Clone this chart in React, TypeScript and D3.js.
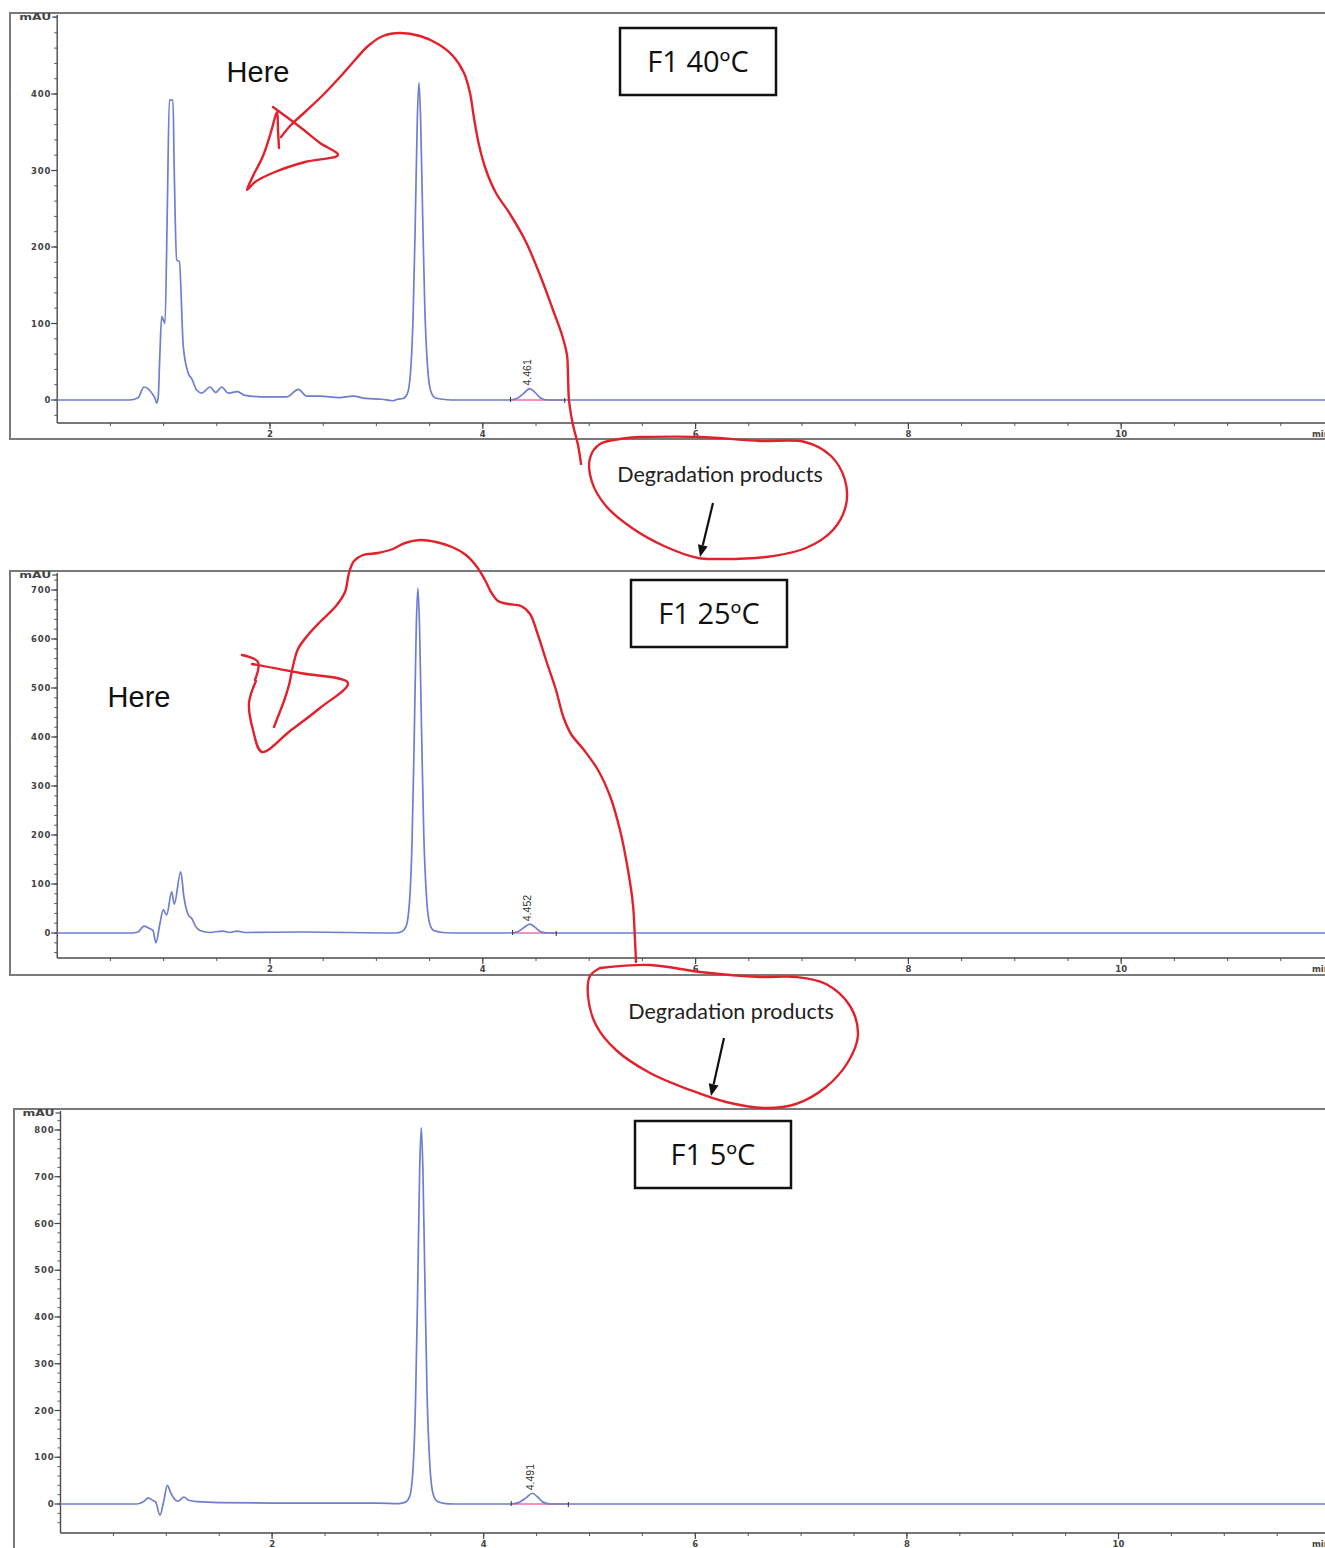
import * as d3 from 'd3';

// ---- values: [time (min), signal (mAU)] ----
const f40Trace: [number, number][] = [
  [0, 0], [0.68, 0], [0.76, 3], [0.816, 17], [0.89, 9], [0.92, 2], [0.935, -4], [0.95, 5],
  [0.965, 60], [0.982, 109], [1.013, 100], [1.035, 250], [1.054, 392], [1.088, 392], [1.1, 300],
  [1.123, 183], [1.148, 181], [1.185, 70], [1.232, 35], [1.264, 28], [1.311, 13], [1.358, 9],
  [1.436, 17], [1.49, 10], [1.546, 17], [1.608, 9], [1.693, 11], [1.765, 6], [1.969, 4],
  [2.157, 4], [2.266, 14], [2.345, 5], [2.47, 5], [2.65, 3], [2.78, 5], [2.9, 2], [3.05, 1],
  [3.15, -1], [3.2, 1], [3.25, 2], [3.29, 8], [3.32, 35], [3.345, 110], [3.365, 230], [3.385, 370],
  [3.4, 415], [3.415, 370], [3.435, 240], [3.455, 120], [3.48, 45], [3.51, 12], [3.55, 3], [3.62, 1],
  [3.7, 0], [4.25, 0], [4.32, 2], [4.38, 8], [4.44, 15], [4.49, 10], [4.54, 3], [4.61, 0], [12.5, 0],
];

const f25Trace: [number, number][] = [
  [0, 0], [0.7, 0], [0.76, 2], [0.816, 14], [0.87, 9], [0.9, 5], [0.928, -20], [0.966, 20],
  [0.997, 47], [1.029, 37], [1.076, 84], [1.1, 59], [1.161, 125], [1.19, 75], [1.232, 37],
  [1.264, 30], [1.3, 14], [1.342, 5], [1.436, 1], [1.555, 4], [1.624, 1], [1.69, 4], [1.765, 1],
  [2.3, 2], [3.18, 0], [3.24, 3], [3.28, 14], [3.31, 60], [3.335, 187], [3.355, 390], [3.375, 628],
  [3.39, 704], [3.405, 628], [3.425, 407], [3.445, 204], [3.47, 76], [3.5, 20], [3.54, 5], [3.62, 1],
  [3.7, 0], [4.25, 0], [4.32, 2], [4.38, 10], [4.44, 18], [4.49, 12], [4.54, 3], [4.61, 0], [12.5, 0],
];

const f5Trace: [number, number][] = [
  [0, 0], [0.72, 0], [0.79, 6], [0.83, 13], [0.87, 8], [0.9, 4], [0.94, -24], [0.975, 5],
  [1.01, 40], [1.04, 25], [1.08, 10], [1.11, 6], [1.167, 15], [1.21, 8], [1.3, 5], [1.5, 3],
  [2.0, 2], [3.0, 2], [3.2, 1], [3.26, 4], [3.3, 16], [3.33, 68], [3.355, 213], [3.375, 446],
  [3.395, 718], [3.41, 805], [3.425, 718], [3.445, 466], [3.465, 233], [3.49, 87], [3.52, 23],
  [3.56, 6], [3.64, 1], [3.72, 0], [4.25, 0], [4.33, 3], [4.4, 13], [4.46, 23], [4.51, 15],
  [4.56, 4], [4.63, 0], [12.5, 0],
];

// integrated degradation peak: label, apex, integration start / end (min)
const peakLabels = ['4.461', '4.452', '4.491'];
const peakApex = [4.44, 4.44, 4.46];
const peakStart = [4.26, 4.28, 4.26];
const peakEnd = [4.77, 4.69, 4.8];

const panelTitles = ['F1 40ºC', 'F1 25ºC', 'F1 5ºC'];
const yMajorTicks = [
  [0, 100, 200, 300, 400],
  [0, 100, 200, 300, 400, 500, 600, 700],
  [0, 100, 200, 300, 400, 500, 600, 700, 800],
];
const xTickLabels = [2, 4, 6, 8, 10];

// pixel layout of each panel (frame, axes, and where 0 / top tick sit)
const layout = [
  { fx: 10, fy: 13, fh: 426, left: 57.2, top: 15, bottom: 423, px: 106.4, zeroY: 400, topY: 94 },
  { fx: 10, fy: 571, fh: 404, left: 57.2, top: 573, bottom: 958, px: 106.4, zeroY: 933, topY: 590 },
  { fx: 14, fy: 1109, fh: 470, left: 60.5, top: 1111, bottom: 1533, px: 105.8, zeroY: 1504, topY: 1130 },
];

const traceColor = '#6e7ed0';
const red = '#e1222c';

function Chromatogram({ i, trace }: { i: number; trace: [number, number][] }) {
  const L = layout[i];
  const ticks = yMajorTicks[i];
  const x = d3.scaleLinear().domain([0, 1]).range([L.left, L.left + L.px]);
  const y = d3.scaleLinear().domain([0, ticks[ticks.length - 1]]).range([L.zeroY, L.topY]);
  const line = d3.line<[number, number]>()
    .x(d => x(d[0]))
    .y(d => y(d[1]))
    .curve(d3.curveMonotoneX);

  const yMinor = d3.range(-100, 1000, 20).filter(v => y(v) <= L.bottom - 2 && y(v) >= L.top + 1);
  const xMinor = d3.range(0.5, 12.5, 0.5);

  const apexX = x(peakApex[i]);
  const apexY = y(trace.find(d => d[0] === peakApex[i])![1]);

  return (
    <g>
      <rect x={L.fx} y={L.fy} width={1400} height={L.fh} fill="none" stroke="#7a7a7a" strokeWidth={2} />
      {/* axes */}
      <line x1={L.left} x2={L.left} y1={L.top} y2={L.bottom} stroke="#4a4a4a" strokeWidth={1.4} />
      <line x1={L.left} x2={1400} y1={L.bottom} y2={L.bottom} stroke="#4a4a4a" strokeWidth={1.4} />
      <line x1={L.left - 5} x2={L.left} y1={L.top + 2} y2={L.top + 2} stroke="#4a4a4a" strokeWidth={1.2} />
      <text x={L.left - 6} y={L.top + 5} textAnchor="end" fontFamily="DejaVu Sans" fontWeight="bold"
        fontSize={9} fill="#444" textLength={32} lengthAdjust="spacingAndGlyphs">mAU</text>
      {yMinor.map(v => (
        <line key={'ym' + v} x1={L.left - 3} x2={L.left} y1={y(v)} y2={y(v)} stroke="#555" strokeWidth={1} />
      ))}
      {ticks.map(v => (
        <g key={'yt' + v}>
          <line x1={L.left - 6} x2={L.left} y1={y(v)} y2={y(v)} stroke="#444" strokeWidth={1.2} />
          <text x={L.left - 6} y={y(v) + 3} textAnchor="end" fontFamily="DejaVu Sans" fontWeight="bold"
            fontSize={8.5} fill="#444" letterSpacing={0.8}>{v}</text>
        </g>
      ))}
      {xMinor.map(t => (
        <line key={'xm' + t} x1={x(t)} x2={x(t)} y1={L.bottom} y2={L.bottom + 3} stroke="#555" strokeWidth={1} />
      ))}
      {xTickLabels.map(t => (
        <g key={'xt' + t}>
          <line x1={x(t)} x2={x(t)} y1={L.bottom} y2={L.bottom + 6} stroke="#444" strokeWidth={1.2} />
          <text x={x(t)} y={L.bottom + 14} textAnchor="middle" fontFamily="DejaVu Sans" fontWeight="bold"
            fontSize={8.5} fill="#444">{t}</text>
        </g>
      ))}
      <text x={1312} y={L.bottom + 14} fontFamily="DejaVu Sans" fontWeight="bold" fontSize={8.5} fill="#444">min</text>

      {/* integration baseline of the small peak */}
      <line x1={x(peakStart[i])} x2={x(peakEnd[i])} y1={y(0)} y2={y(0)} stroke="#ef6fa6" strokeWidth={1.6} />
      <path d={line(trace)!} fill="none" stroke={traceColor} strokeWidth={1.7} strokeLinejoin="round" />
      <line x1={x(peakStart[i])} x2={x(peakStart[i])} y1={y(0) - 3} y2={y(0) + 2} stroke="#333" strokeWidth={1} />
      <line x1={x(peakEnd[i])} x2={x(peakEnd[i])} y1={y(0) - 2} y2={y(0) + 3} stroke="#333" strokeWidth={1} />
      <text transform={`translate(${apexX + 1.5},${apexY - 3}) rotate(-90)`} fontFamily="Liberation Sans Narrow, Liberation Sans"
        fontSize={10.5} fill="#333">{peakLabels[i]}</text>
    </g>
  );
}

// hand-drawn red annotations (page pixels)
const redStroke1: [number, number][] = [
  [581, 464], [578, 445], [573, 425], [569, 400], [568, 375], [567, 355], [562, 335], [553, 310],
  [540, 275], [525, 240], [510, 214], [496, 193], [486, 170], [479, 145], [474, 118], [470, 93],
  [464, 73], [453, 56], [438, 44], [420, 36], [400, 33], [383, 36], [368, 46], [355, 60],
  [340, 77], [322, 96], [305, 112], [291, 125], [281, 137],
];
const redHead1: [number, number][] = [
  [273, 107], [300, 127], [320, 143], [338, 155], [305, 162], [275, 172], [255, 182], [247, 190],
  [253, 176], [263, 156], [271, 132], [277, 112], [278, 130], [279, 148],
];
const redStroke2: [number, number][] = [
  [636, 962], [635, 940], [633, 905], [628, 870], [620, 830], [610, 796], [598, 770], [584, 750],
  [571, 734], [563, 716], [556, 690], [546, 660], [537, 632], [530, 614], [521, 606], [508, 604],
  [498, 601], [491, 592], [485, 580], [477, 567], [466, 555], [452, 547], [436, 542], [420, 540],
  [405, 543], [393, 549], [378, 553], [363, 555], [354, 561], [349, 573], [345, 592], [336, 606],
  [321, 621], [308, 635], [298, 649], [293, 666], [289, 685], [284, 701], [279, 714], [274, 727],
];
const redHead2a: [number, number][] = [[242, 655], [258, 662], [255, 680]];
const redHead2b: [number, number][] = [
  [252, 664], [300, 673], [348, 683], [320, 708], [290, 731], [262, 752], [253, 730], [249, 703], [256, 681],
];
const ellipse1: [number, number][] = [
  [640, 437], [700, 437], [760, 441], [805, 442], [831, 456], [845, 480], [846, 505], [833, 530],
  [806, 548], [766, 557], [720, 559], [698, 558], [664, 546], [632, 528], [606, 506], [592, 482],
  [590, 458], [600, 444], [640, 437],
];
const ellipse2: [number, number][] = [
  [600, 968], [650, 965], [700, 972], [760, 977], [796, 977], [826, 984], [850, 1006], [858, 1035],
  [848, 1062], [826, 1087], [796, 1104], [766, 1108], [726, 1102], [690, 1090], [650, 1073],
  [616, 1050], [596, 1025], [588, 996], [590, 976], [600, 968],
];

const sketch = d3.line<[number, number]>().curve(d3.curveCatmullRom.alpha(0.5));

function Arrow({ x1, y1, x2, y2 }: { x1: number; y1: number; x2: number; y2: number }) {
  const a = Math.atan2(y2 - y1, x2 - x1);
  const len = 12, w = 5;
  const bx = x2 - len * Math.cos(a), by = y2 - len * Math.sin(a);
  const p1 = [bx + w * Math.sin(a), by - w * Math.cos(a)];
  const p2 = [bx - w * Math.sin(a), by + w * Math.cos(a)];
  return (
    <g>
      <line x1={x1} y1={y1} x2={bx} y2={by} stroke="#111" strokeWidth={2.2} />
      <path d={`M${x2},${y2}L${p1[0]},${p1[1]}L${p2[0]},${p2[1]}Z`} fill="#111" />
    </g>
  );
}

function TitleBox({ x, y, label }: { x: number; y: number; label: string }) {
  return (
    <g>
      <rect x={x} y={y} width={156} height={67} fill="#fff" stroke="#111" strokeWidth={2.5} />
      <text x={x + 78} y={y + 44} textAnchor="middle" fontFamily="Open Sans, Lato" fontSize={29} fill="#111">{label}</text>
    </g>
  );
}

export default function App() {
  const traces = [f40Trace, f25Trace, f5Trace];
  return (
    <svg width={1325} height={1548} style={{ position: 'absolute', left: 0, top: 0, background: '#fff' }}>
      <rect width={1325} height={1548} fill="#fff" />
      {traces.map((t, i) => <Chromatogram key={i} i={i} trace={t} />)}

      <TitleBox x={620} y={28} label={panelTitles[0]} />
      <TitleBox x={631} y={580} label={panelTitles[1]} />
      <TitleBox x={635} y={1121} label={panelTitles[2]} />

      <text x={258} y={82} textAnchor="middle" fontFamily="Liberation Sans" fontSize={29} fill="#111">Here</text>
      <text x={139} y={707} textAnchor="middle" fontFamily="Liberation Sans" fontSize={29} fill="#111">Here</text>

      <g fill="none" stroke={red} strokeWidth={2.4} strokeLinecap="round" strokeLinejoin="round">
        <path d={sketch(redStroke1)!} />
        <path d={sketch(redHead1)!} />
        <path d={sketch(redStroke2)!} />
        <path d={sketch(redHead2a)!} />
        <path d={sketch(redHead2b)!} />
        <path d={sketch(ellipse1)!} />
        <path d={sketch(ellipse2)!} />
      </g>

      <text x={720} y={482} textAnchor="middle" fontFamily="Lato, Open Sans" fontSize={21.5} fill="#222">Degradation products</text>
      <text x={731} y={1019} textAnchor="middle" fontFamily="Lato, Open Sans" fontSize={21.5} fill="#222">Degradation products</text>
      <Arrow x1={713} y1={503} x2={700} y2={557} />
      <Arrow x1={724} y1={1038} x2={711} y2={1096} />
    </svg>
  );
}
